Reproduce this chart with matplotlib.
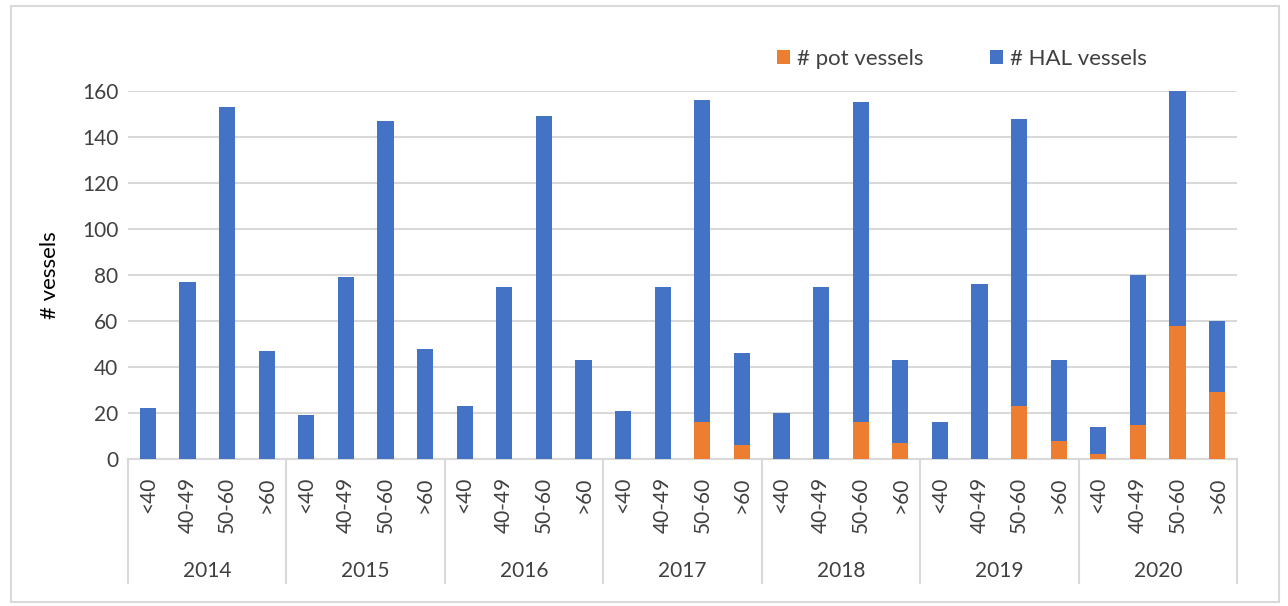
import matplotlib
matplotlib.use("Agg")
import matplotlib.pyplot as plt
import matplotlib.transforms as mtransforms
from matplotlib.patches import Rectangle
import numpy as np

plt.rcParams['font.family'] = ['Lato', 'DejaVu Sans']

years = ["2014", "2015", "2016", "2017", "2018", "2019", "2020"]
size_classes = ["<40", "40-49", "50-60", ">60"]

# total vessels per year & size class (stack top)
total_vessels = [
    22, 77, 153, 47,
    19, 79, 147, 48,
    23, 75, 149, 43,
    21, 75, 156, 46,
    20, 75, 155, 43,
    16, 76, 148, 43,
    14, 80, 160, 60,
]
pot_vessels = [
    0, 0, 0, 0,
    0, 0, 0, 0,
    0, 0, 0, 0,
    0, 0, 16, 6,
    0, 0, 16, 7,
    0, 0, 23, 8,
    2, 15, 58, 29,
]
hal_vessels = [t - p for t, p in zip(total_vessels, pot_vessels)]

ORANGE = "#ED7D31"
BLUE = "#4472C4"
GRID = "#D9D9D9"
TEXT = "#404040"

fig = plt.figure(figsize=(12.88, 6.06), dpi=100)
ax = fig.add_axes([128/1288, 1 - 459/606, (1237-128)/1288, 368/606])

n = len(total_vessels)
x = np.arange(n)
ax.bar(x, pot_vessels, width=0.41, color=ORANGE, label="# pot vessels", zorder=3)
ax.bar(x, hal_vessels, bottom=pot_vessels, width=0.41, color=BLUE, label="# HAL vessels", zorder=3)

ax.set_xlim(-0.5, n - 0.5)
ax.set_ylim(0, 160)
ax.set_yticks(np.arange(0, 161, 20))
ax.yaxis.grid(True, color=GRID, linewidth=1.5, zorder=0)
ax.set_axisbelow(True)
for s in ["top", "right", "left"]:
    ax.spines[s].set_visible(False)
ax.spines["bottom"].set_color(GRID)
ax.spines["bottom"].set_linewidth(1.5)
ax.tick_params(axis="y", length=0, labelsize=15, labelcolor=TEXT, pad=7)
ax.tick_params(axis="x", length=0, labelsize=15, labelcolor=TEXT, pad=13)

ax.set_xticks(x)
ax.set_xticklabels(size_classes * len(years), rotation=90, va="top", ha="center")

ax.set_ylabel("# vessels", fontsize=16, color="black", labelpad=16)

trans = mtransforms.blended_transform_factory(ax.transData, ax.transAxes)
sep_bottom = (459 - 583) / 368
ng = len(size_classes)
for g in range(len(years) + 1):
    xs = g * ng - 0.5
    ax.plot([xs, xs], [0, sep_bottom], transform=trans, color=GRID,
            linewidth=1.5, clip_on=False)
for g, yr in enumerate(years):
    ax.text(g * ng + (ng - 1) / 2, (459 - 571) / 368, yr, transform=trans,
            ha="center", va="center", fontsize=15, color=TEXT)

handles, labels = ax.get_legend_handles_labels()
fig.legend(handles, labels, loc="center", bbox_to_anchor=(962/1288, 1 - 59/606),
           ncol=2, frameon=False, fontsize=16, handlelength=0.6, handleheight=0.6,
           columnspacing=3.0, handletextpad=0.3, labelcolor=TEXT)

fig.patches.append(Rectangle((11/1288, 4/606), (1279-11)/1288, (600-4)/606,
                             transform=fig.transFigure, fill=False,
                             edgecolor=GRID, linewidth=1.5))

fig.savefig("out.png", dpi=100, facecolor="white")
